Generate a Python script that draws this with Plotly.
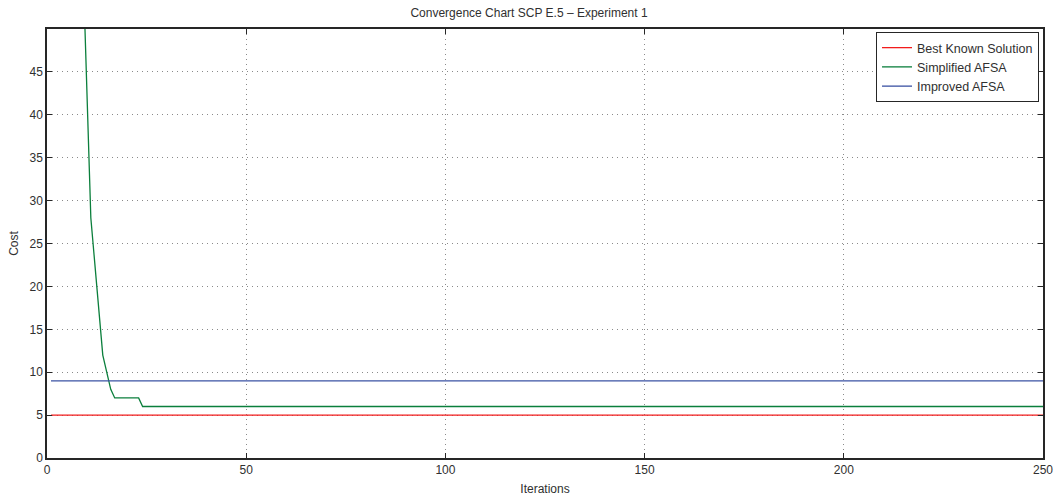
import plotly.graph_objects as go

# Iteration span shown on the chart
iter_span = [1, 250]

# Reference cost levels (constant across iterations)
best_known_cost = 5
improved_afsa_cost = 9

# Simplified AFSA convergence: iteration / best cost at each change point
simplified_iter = [1, 5, 8, 9, 10, 11, 14, 16, 17, 23, 24, 250]
simplified_cost = [120, 100, 73, 58, 43, 28, 12, 8, 7, 7, 6, 6]

x_ticks = [0, 50, 100, 150, 200, 250]
y_ticks = [0, 5, 10, 15, 20, 25, 30, 35, 40, 45]

FONT = "Liberation Sans, Arial, Helvetica, sans-serif"
AXIS_COLOR = "#262626"
TEXT_COLOR = "#303030"

fig = go.Figure()
fig.add_trace(go.Scatter(
    x=iter_span, y=[best_known_cost] * len(iter_span), mode="lines",
    name="Best Known Solution", line=dict(color="#f21c1c", width=1.3)))
fig.add_trace(go.Scatter(
    x=simplified_iter, y=simplified_cost, mode="lines",
    name="Simplified AFSA", line=dict(color="#0b7f3c", width=1.3)))
fig.add_trace(go.Scatter(
    x=iter_span, y=[improved_afsa_cost] * len(iter_span), mode="lines",
    name="Improved AFSA", line=dict(color="#3a52a3", width=1.3)))

axis_common = dict(
    showline=True, linecolor=AXIS_COLOR, linewidth=1.5, mirror="ticks",
    ticks="inside", ticklen=5, tickwidth=1, tickcolor=AXIS_COLOR,
    showgrid=True, gridcolor="#8a8a8a", gridwidth=1, griddash="1px,4px",
    zeroline=False, automargin=False,
    tickfont=dict(size=12, color=TEXT_COLOR, family=FONT),
)

fig.update_layout(
    width=1058, height=499,
    margin=dict(l=47, r=15, t=29, b=41, autoexpand=False),
    paper_bgcolor="white", plot_bgcolor="white",
    font=dict(family=FONT, size=12, color=TEXT_COLOR),
    title=dict(text="Convergence Chart SCP E.5 \u2013 Experiment 1",
               x=0.5, xanchor="center", y=0.975, yanchor="middle",
               font=dict(size=12, family=FONT, color=TEXT_COLOR)),
    xaxis=dict(range=[0, 250], tickvals=x_ticks,
               title=dict(text="Iterations", standoff=8,
                          font=dict(size=12, family=FONT)),
               **axis_common),
    yaxis=dict(range=[0, 50], tickvals=y_ticks,
               title=dict(text="Cost", standoff=8,
                          font=dict(size=12, family=FONT)),
               **axis_common),
    legend=dict(x=0.996, y=0.993, xanchor="right", yanchor="top",
                bgcolor="white", bordercolor="#262626", borderwidth=1,
                font=dict(size=12.5, family=FONT, color=TEXT_COLOR),
                tracegroupgap=0, itemwidth=30),
    showlegend=True,
)

fig.write_html("out.html")
